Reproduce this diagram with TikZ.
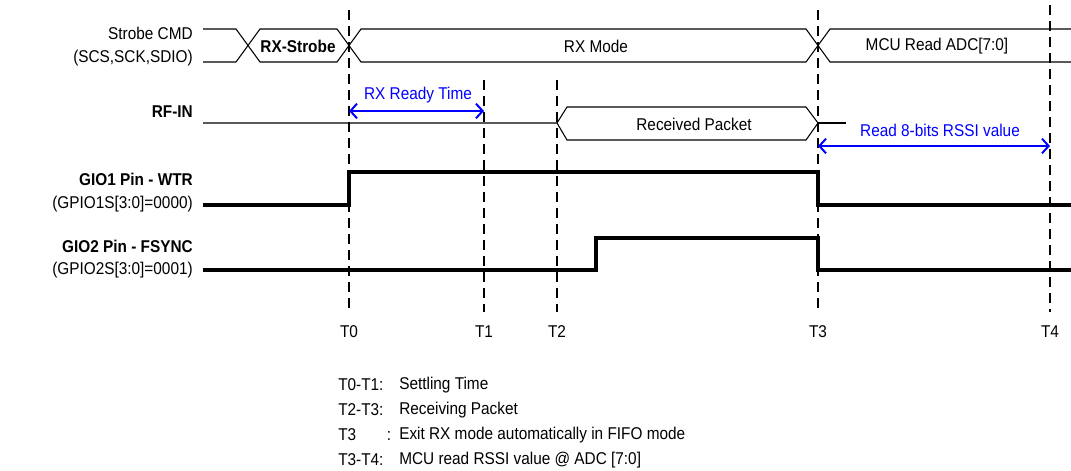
\documentclass[tikz,border=0pt]{standalone}
\usepackage{fontspec}
\setmainfont{Liberation Sans}[FakeStretch=0.9]
\usetikzlibrary{arrows.meta}

\begin{document}
\begin{tikzpicture}[x=0.75pt,y=-0.75pt,font=\fontsize{12.8}{15}\selectfont,
  marker/.style={line width=1.5pt,dash pattern=on 7.5pt off 4.5pt},
  bus/.style={line width=0.8pt},
  sig/.style={line width=2.3pt},
  span/.style={blue,line width=1.5pt,{Straight Barb[length=5pt,width=11pt]}-{Straight Barb[length=5pt,width=11pt]}},
  sigl/.style={anchor=east,inner sep=0pt}]
\useasboundingbox (0,0) rectangle (1071,471);
% time markers
\foreach \n/\x/\t in {0/349/10,1/484/80,2/557/80,3/818/10,4/1050/5} {
  \coordinate (t\n top) at (\x,\t);
  \coordinate (t\n bot) at (\x,312);
  \draw[marker] (t\n top) -- (t\n bot);
  \node[inner sep=0pt] (tl\n) at (\x,332) {T\n};
}
% signal names
\node[sigl] (strobe1) at (193,33) {Strobe CMD};
\node[sigl] (strobe2) at (193,58) {(SCS,SCK,SDIO)};
\node[sigl,font=\fontsize{12.8}{15}\selectfont\bfseries] (rfin) at (193,112) {RF-IN};
\node[sigl,font=\fontsize{12.8}{15}\selectfont\bfseries] (gio1a) at (193,179) {GIO1 Pin - WTR};
\node[sigl] (gio1b) at (193,204) {(GPIO1S[3:0]=0000)};
\node[sigl,font=\fontsize{12.8}{15}\selectfont\bfseries] (gio2a) at (193,246) {GIO2 Pin - FSYNC};
\node[sigl] (gio2b) at (193,270) {(GPIO2S[3:0]=0001)};
% strobe command bus
\draw[bus] (203,29) -- (236,29) -- (260,62) -- (337,62) -- (361,29) -- (806,29) -- (830,62) -- (1071,62);
\draw[bus] (203,62) -- (236,62) -- (260,29) -- (337,29) -- (361,62) -- (806,62) -- (830,29) -- (1071,29);
\node[font=\fontsize{12.8}{15}\selectfont\bfseries] (rxstrobe) at (298,46) {RX-Strobe};
\node (rxmode) at (596,46) {RX Mode};
\node (mcuread) at (937,46) {MCU Read ADC[7:0]};
% RF input
\draw[bus] (203,123) -- (557,123) -- (567,107) -- (806,107) -- (818,123) -- (806,140) -- (567,140) -- (557,123);
\draw[bus] (818,123) -- (846,123);
\node (packet) at (694,124) {Received Packet};
% GIO pins
\draw[sig] (203,205) -- (349,205) -- (349,172) -- (818,172) -- (818,205) -- (1071,205);
\draw[sig] (203,270) -- (596,270) -- (596,238) -- (818,238) -- (818,270) -- (1071,270);
% spans
\draw[span] (349,111) -- (484,111);
\node[blue] (ready) at (418,95) {RX Ready Time};
\draw[span] (818,146) -- (1050,146);
\node[blue] (rssi) at (940,130) {Read 8-bits RSSI value};
% notes
\foreach \i/\k/\d in {0/T0-T1:/Settling Time,1/T2-T3:/Receiving Packet,
  2/{T3\hspace{23pt}:}/Exit RX mode automatically in FIFO mode,3/T3-T4:/MCU read RSSI value @ ADC [7:0]} {
  \node[anchor=west,inner sep=0pt] (key\i) at (338,385+25*\i) {\k};
  \node[anchor=west,inner sep=0pt] (note\i) at (399,385+25*\i) {\d};
}
\end{tikzpicture}
\end{document}
